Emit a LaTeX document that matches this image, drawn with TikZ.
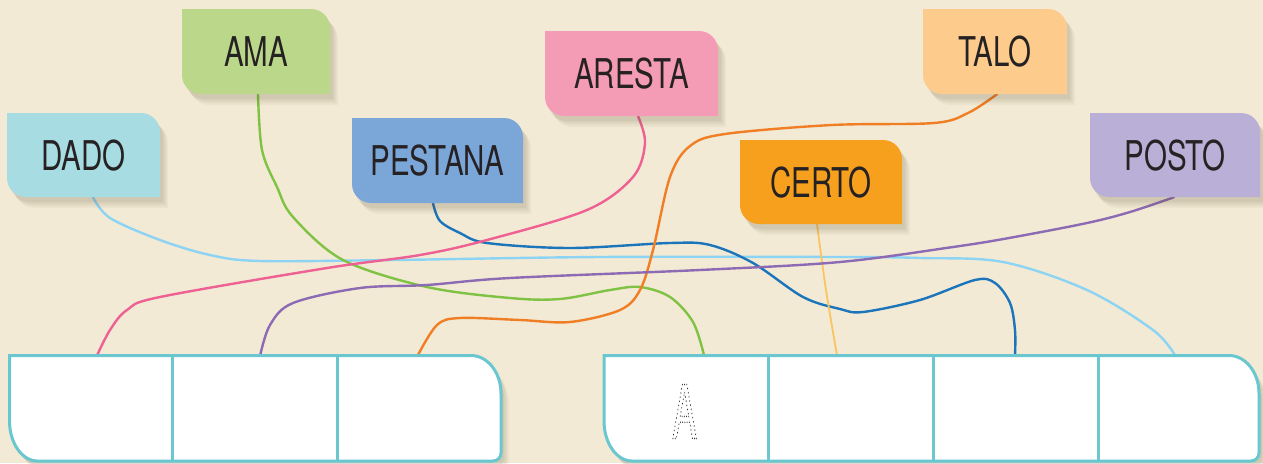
\documentclass[tikz,border=0pt]{standalone}
\usepackage{fontspec}
\usepackage{graphicx}
\setmainfont{TeX Gyre Heros}[FakeStretch=0.72]
\newfontfamily\tracefont{TeX Gyre Heros}
\usetikzlibrary{calc}
\definecolor{bgc}{HTML}{F2EAD5}
\definecolor{cDADO}{HTML}{A7DCE3}
\definecolor{cAMA}{HTML}{BBD88A}
\definecolor{cPEST}{HTML}{7BA7D8}
\definecolor{cARES}{HTML}{F49CB5}
\definecolor{cTALO}{HTML}{FDCB8C}
\definecolor{cCERT}{HTML}{F6A01E}
\definecolor{cPOST}{HTML}{BAAFD6}
\definecolor{lDADO}{HTML}{8DD3F3}
\definecolor{lAMA}{HTML}{80C243}
\definecolor{lPEST}{HTML}{1C74BB}
\definecolor{lARES}{HTML}{EE6192}
\definecolor{lTALO}{HTML}{F07E25}
\definecolor{lCERT}{HTML}{FBC45F}
\definecolor{lPOST}{HTML}{8D6BB4}
\definecolor{boxc}{HTML}{6AC7D0}
\definecolor{txtc}{HTML}{262223}
\definecolor{shc}{HTML}{5A4A30}
\pgfdeclarelayer{bg}
\pgfdeclarelayer{conn}
\pgfsetlayers{bg,conn,main}
\tikzset{
  lblshadow/.style={
    preaction={fill=shc, fill opacity=0.04, transform canvas={xshift=8pt,yshift=-11pt}},
    preaction={fill=shc, fill opacity=0.05, transform canvas={xshift=6.5pt,yshift=-9pt}},
    preaction={fill=shc, fill opacity=0.06, transform canvas={xshift=5pt,yshift=-7pt}},
    preaction={fill=shc, fill opacity=0.07, transform canvas={xshift=3pt,yshift=-5pt}}},
  wordtext/.style={inner sep=0pt, text=txtc, text depth=0pt, font=\fontsize{41}{41}\selectfont},
  cellnode/.style={inner sep=0pt, minimum height=105.5pt},
  boxline/.style={draw=boxc, line width=3pt},
  conn/.style={line width=2.4pt, line cap=round},
}
\newcommand\wordlabel[7]{%
  \fill[#6, lblshadow] (#2,#3) -- ({#4-19},#3) .. controls ({#4-8.5},#3) and (#4,{#3+8.5}) .. (#4,{#3+19}) -- (#4,#5) -- ({#2+19},#5) .. controls ({#2+8.5},#5) and (#2,{#5-8.5}) .. (#2,{#5-19}) -- cycle;
  \node[wordtext, minimum width={(#4-#2)*1pt}, minimum height={(#5-#3)*1pt}] (#1) at ({(#2+#4)/2},{(#3+#5)/2}) {#7};}
\newcommand\bigboxpath[4]{(#1,#2) -- ({#3-30},#2) .. controls ({#3-13.4},#2) and (#3,{#2+17}) .. (#3,{#2+38}) -- (#3,{#4-8}) .. controls (#3,{#4-3.6}) and ({#3-3.6},#4) .. ({#3-8},#4) -- ({#1+28},#4) .. controls ({#1+12.5},#4) and (#1,{#4-18}) .. (#1,{#4-40}) -- cycle}
\begin{document}
\begin{tikzpicture}[x=1pt,y=-1pt]
\begin{pgfonlayer}{bg}
\fill[bgc] (0,0) rectangle (1263,463);
\end{pgfonlayer}
\useasboundingbox (0,0) rectangle (1263,463);
% word labels
\wordlabel{dado}{7}{113}{160}{197}{cDADO}{DADO}
\wordlabel{ama}{182}{9}{330}{94}{cAMA}{AMA}
\wordlabel{pest}{352}{118}{523}{203}{cPEST}{PESTANA}
\wordlabel{ares}{545}{31}{718}{116}{cARES}{ARESTA}
\wordlabel{talo}{923}{9}{1067}{94}{cTALO}{TALO}
\wordlabel{cert}{740}{140}{902}{224}{cCERT}{CERTO}
\wordlabel{post}{1090}{113}{1260}{197}{cPOST}{POSTO}
% answer boxes
\fill[white, lblshadow] \bigboxpath{9.5}{355.5}{501}{461};
\fill[white, lblshadow] \bigboxpath{604}{355.5}{1259}{461};
\node[cellnode, minimum width=163.2pt] (l1) at (91.1,408.25) {};
\node[cellnode, minimum width=165pt] (l2) at (255.2,408.25) {};
\node[cellnode, minimum width=163.3pt] (l3) at (419.35,408.25) {};
\node[cellnode, minimum width=164pt] (r1) at (686,408.25) {};
\node[cellnode, minimum width=165pt] (r2) at (850.5,408.25) {};
\node[cellnode, minimum width=165pt] (r3) at (1015.5,408.25) {};
\node[cellnode, minimum width=161pt] (r4) at (1178.5,408.25) {};
\draw[boxline] (l1.north east) -- (l1.south east);
\draw[boxline] (l2.north east) -- (l2.south east);
\draw[boxline] (r1.north east) -- (r1.south east);
\draw[boxline] (r2.north east) -- (r2.south east);
\draw[boxline] (r3.north east) -- (r3.south east);
\draw[boxline] \bigboxpath{9.5}{355.5}{501}{461};
\draw[boxline] \bigboxpath{604}{355.5}{1259}{461};
% dotted tracing letter
\node[inner sep=0pt, text=black!80, text depth=0pt] (trace) at (684.5,411.5) {\scalebox{0.5}[1]{\tracefont\fontsize{74}{74}\selectfont\special{pdf:literal direct 1 Tr 1.9 w 1 J [0 4.4] 0 d}A\special{pdf:literal direct 0 Tr 0 J [] 0 d 0.4 w}}};
% connector end points
\coordinate (sDADO) at ($(dado.south)+(9.5,0)$);
\coordinate (sAMA) at ($(ama.south)+(2,0)$);
\coordinate (sPEST) at ($(pest.south)+(-4.5,0)$);
\coordinate (sARES) at ($(ares.south)+(6.5,0)$);
\coordinate (sTALO) at ($(talo.south)+(2,0)$);
\coordinate (sCERT) at ($(cert.south)+(-4,0)$);
\coordinate (sPOST) at ($(post.south)+(-1,0)$);
\coordinate (eARES) at ($(l1.north)+(6,0)$);
\coordinate (ePOST) at ($(l2.north)+(5,0)$);
\coordinate (eTALO) at ($(l3.north)+(-1.5,0)$);
\coordinate (eAMA) at ($(r1.north)+(18,0)$);
\coordinate (eCERT) at ($(r2.north)+(-13.5,0)$);
\coordinate (ePEST) at ($(r3.north)+(-0.5,0)$);
\coordinate (eDADO) at ($(r4.north)+(-3.5,0)$);
\begin{pgfonlayer}{conn}
\draw[conn, lDADO] plot[smooth, tension=0.55] coordinates {(sDADO) (110,218) (160,240) (210,255) (260,261) (393,260) (600,257) (840,257) (920,258) (1003,262) (1087,290) (1153,330) (eDADO)};
\draw[conn, lAMA] plot[smooth, tension=0.55] coordinates {(sAMA) (262,150) (277,187) (293,217) (343,260) (427,287) (510,298) (560,299) (610,290) (640,287) (670,297) (693,322) (eAMA)};
\draw[conn, lPEST] plot[smooth, tension=0.55] coordinates {(sPEST) (440,221) (460,233) (487,243) (570,248) (670,243) (710,245) (753,263) (803,297) (840,309) (863,312) (920,300) (975,280) (995,283) (1010,303) (1015,330) (ePEST)};
\draw[conn, lARES] plot[smooth, tension=0.55] coordinates {(sARES) (645,143) (633,177) (587,210) (487,240) (420,255) (327,268) (160,297) (127,310) (110,330) (eARES)};
\draw[conn, lTALO] plot[smooth, tension=0.55] coordinates {(sTALO) (968,113) (934,123) (832,125) (725,134) (690,146) (670,177) (653,250) (640,290) (620,310) (570,322) (520,320) (460,318) (437,325) (eTALO)};
\draw[conn, lCERT, line width=1.8pt] plot[smooth, tension=0.55] coordinates {(sCERT) (826,290) (eCERT)};
\draw[conn, lPOST] plot[smooth, tension=0.55] coordinates {(sPOST) (1130,212) (1087,223) (1009,238) (953,247) (840,262) (700,270) (510,278) (427,285) (360,288) (293,303) (270,325) (ePOST)};
\end{pgfonlayer}
\end{tikzpicture}
\end{document}
